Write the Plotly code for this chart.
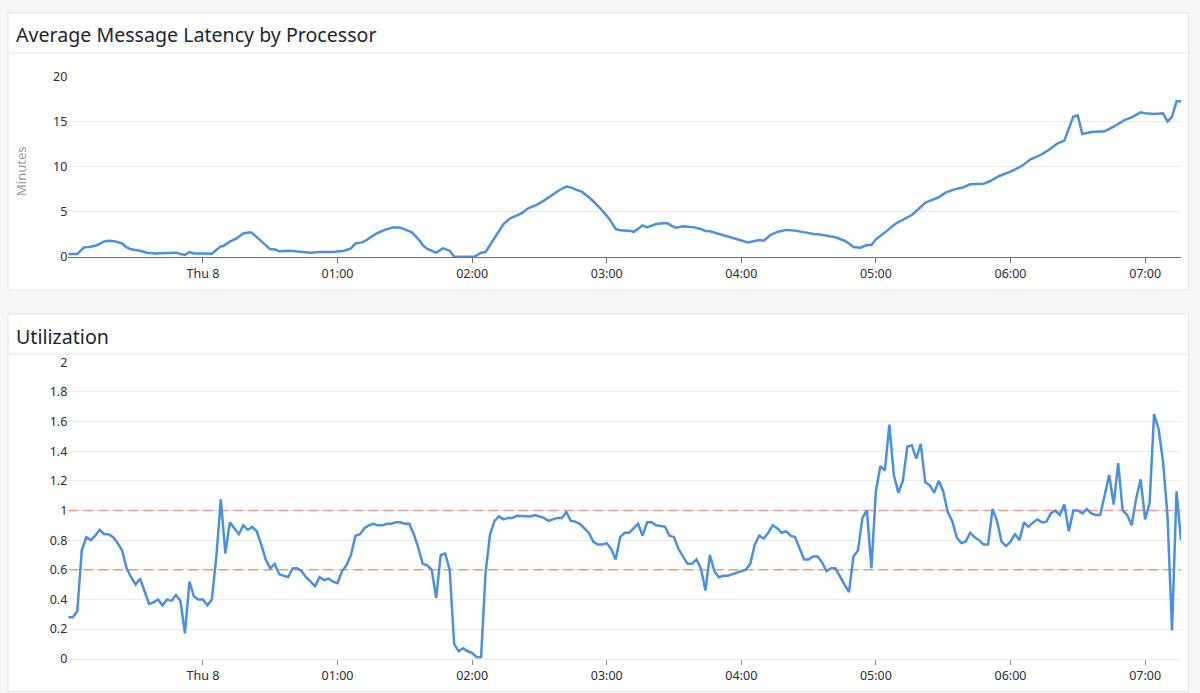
import pandas as pd
import plotly.graph_objects as go

# ---------------- data ----------------
# Average message latency (minutes), time = minutes from Thu 8 00:00
lat_minutes = [
    -60, -56, -53, -50, -47, -44, -42, -39, -36, -34,
    -32, -28, -25, -21, -16, -12, -10, -8, -6, -4,
    0, 4, 8, 9, 12, 15, 18, 21, 22, 25,
    30, 32, 34, 39, 43, 48, 52, 58, 63, 66,
    68, 71, 73, 77, 81, 85, 88, 91, 93, 95,
    97, 98, 100, 104, 107, 110, 112, 121, 124, 126,
    130, 134, 137, 142, 145, 149, 152, 156, 159, 162,
    164, 166, 169, 173, 177, 181, 184, 186, 191, 192,
    194, 196, 198, 202, 205, 207, 210, 211, 214, 219,
    222, 224, 226, 230, 233, 236, 240, 243, 248, 250,
    253, 256, 260, 264, 269, 272, 275, 280, 282, 286,
    288, 290, 293, 296, 298, 300, 303, 305, 309, 313,
    316, 319, 322, 328, 331, 335, 339, 342, 348, 351,
    355, 360, 365, 369, 374, 377, 381, 384, 388, 390,
    392, 396, 402, 406, 411, 414, 418, 420, 424, 428,
    430, 432, 434, 436,
]
lat_values = [
    0.33, 0.33, 1.07, 1.14, 1.33, 1.73, 1.80, 1.73, 1.50, 1.07,
    0.85, 0.70, 0.48, 0.40, 0.44, 0.48, 0.33, 0.22, 0.55, 0.40,
    0.40, 0.37, 1.20, 1.20, 1.70, 2.07, 2.60, 2.73, 2.65, 1.96,
    0.85, 0.85, 0.63, 0.70, 0.59, 0.48, 0.55, 0.55, 0.70, 0.96,
    1.50, 1.62, 1.88, 2.55, 3.00, 3.28, 3.25, 3.00, 2.75, 2.25,
    1.70, 1.30, 0.89, 0.48, 0.96, 0.70, 0.03, 0.03, 0.48, 0.55,
    2.07, 3.65, 4.28, 4.83, 5.39, 5.79, 6.24, 6.97, 7.42, 7.79,
    7.71, 7.49, 7.20, 6.42, 5.42, 4.28, 3.10, 2.95, 2.88, 2.77,
    3.14, 3.50, 3.28, 3.65, 3.73, 3.73, 3.32, 3.25, 3.39, 3.28,
    3.10, 2.88, 2.84, 2.55, 2.32, 2.10, 1.88, 1.62, 1.88, 1.80,
    2.44, 2.77, 3.00, 2.92, 2.70, 2.55, 2.50, 2.25, 2.18, 1.80,
    1.50, 1.10, 1.03, 1.33, 1.33, 1.96, 2.50, 2.92, 3.73, 4.28,
    4.65, 5.31, 6.01, 6.61, 7.12, 7.49, 7.71, 8.04, 8.12, 8.41,
    8.97, 9.45, 10.07, 10.81, 11.37, 11.85, 12.58, 12.88, 15.54, 15.65,
    13.62, 13.84, 13.91, 14.43, 15.17, 15.46, 16.01, 15.90, 15.83, 15.90,
    14.98, 15.54, 17.23, 17.23,
]

# Utilization, one sample every 2 minutes starting Wed 23:00
util_start = "2024-02-07 23:00"
util_step = "2min"
util_values = [
    0.28, 0.28, 0.32, 0.73, 0.82, 0.80, 0.83, 0.87, 0.84, 0.84,
    0.82, 0.78, 0.73, 0.61, 0.55, 0.50, 0.54, 0.45, 0.37, 0.38,
    0.40, 0.36, 0.40, 0.39, 0.43, 0.39, 0.17, 0.52, 0.42, 0.40,
    0.40, 0.36, 0.40, 0.69, 1.075, 0.71, 0.92, 0.88, 0.84, 0.90,
    0.87, 0.89, 0.86, 0.77, 0.67, 0.61, 0.64, 0.57, 0.56, 0.55,
    0.61, 0.61, 0.59, 0.55, 0.52, 0.49, 0.55, 0.53, 0.54, 0.52,
    0.51, 0.59, 0.63, 0.70, 0.83, 0.84, 0.88, 0.90, 0.91, 0.90,
    0.90, 0.91, 0.91, 0.92, 0.92, 0.91, 0.91, 0.84, 0.75, 0.64,
    0.63, 0.60, 0.41, 0.70, 0.71, 0.60, 0.10, 0.05, 0.07, 0.05,
    0.04, 0.01, 0.01, 0.58, 0.84, 0.93, 0.96, 0.94, 0.95, 0.95,
    0.965, 0.965, 0.96, 0.96, 0.97, 0.96, 0.95, 0.93, 0.94, 0.95,
    0.95, 0.99, 0.93, 0.925, 0.91, 0.88, 0.85, 0.79, 0.77, 0.77,
    0.78, 0.74, 0.67, 0.82, 0.85, 0.85, 0.88, 0.91, 0.83, 0.92,
    0.92, 0.90, 0.895, 0.89, 0.83, 0.82, 0.74, 0.69, 0.64, 0.64,
    0.67, 0.61, 0.46, 0.70, 0.59, 0.55, 0.56, 0.56, 0.57, 0.58,
    0.59, 0.60, 0.64, 0.77, 0.83, 0.81, 0.85, 0.90, 0.88, 0.85,
    0.86, 0.83, 0.82, 0.74, 0.67, 0.67, 0.69, 0.69, 0.65, 0.59,
    0.61, 0.61, 0.55, 0.50, 0.45, 0.69, 0.73, 0.95, 1.00, 0.61,
    1.13, 1.30, 1.27, 1.58, 1.24, 1.12, 1.20, 1.43, 1.44, 1.35,
    1.45, 1.19, 1.17, 1.12, 1.20, 1.13, 0.99, 0.93, 0.82, 0.78,
    0.79, 0.85, 0.82, 0.80, 0.77, 0.77, 1.01, 0.93, 0.79, 0.76,
    0.79, 0.84, 0.80, 0.92, 0.89, 0.92, 0.94, 0.92, 0.925, 0.98,
    1.00, 0.97, 1.04, 0.86, 1.00, 1.00, 0.98, 1.01, 0.98, 0.97,
    0.97, 1.11, 1.24, 1.04, 1.32, 1.00, 0.97, 0.90, 1.08, 1.21,
    0.94, 1.05, 1.65, 1.55, 1.33, 0.96, 0.19, 1.13, 0.80,
]

thresholds = [1.0, 0.6]
threshold_colors = ["#ec9a94", "#f29c5e"]

x_tick_vals = ["2024-02-08 00:00", "2024-02-08 01:00", "2024-02-08 02:00",
               "2024-02-08 03:00", "2024-02-08 04:00", "2024-02-08 05:00",
               "2024-02-08 06:00", "2024-02-08 07:00"]
x_tick_text = ["Thu 8", "01:00", "02:00", "03:00", "04:00", "05:00", "06:00", "07:00"]
x_range = ["2024-02-07 23:00", "2024-02-08 07:16"]

lat_ticks = [0, 5, 10, 15, 20]
util_ticks = [0, 0.2, 0.4, 0.6, 0.8, 1, 1.2, 1.4, 1.6, 1.8, 2]

# ---------------- figure ----------------
W, H = 1200, 693
def px(x):
    return x / W
def py(y):
    return 1 - y / H

lat_times = pd.Timestamp("2024-02-08 00:00") + pd.to_timedelta(lat_minutes, unit="min")
util_times = pd.date_range(util_start, periods=len(util_values), freq=util_step)

LINE = "#4a90e2"
GRID = "#ebebeb"
BORDER = "#e1e4e8"
FONT = "Noto Sans"
TXT = "#2e2e2e"
TICKSIZE = 12.5

fig = go.Figure()
# threshold markers drawn first so the data line sits on top
for val, col in zip(thresholds, threshold_colors):
    fig.add_trace(go.Scatter(x=x_range, y=[val, val], mode="lines",
                             line=dict(color=col, width=1.5, dash="10px,5px"),
                             xaxis="x2", yaxis="y2", showlegend=False, hoverinfo="skip"))
fig.add_trace(go.Scatter(x=lat_times, y=lat_values, mode="lines",
                         line=dict(color=LINE, width=2.5), xaxis="x", yaxis="y",
                         showlegend=False))
fig.add_trace(go.Scatter(x=util_times, y=util_values, mode="lines",
                         line=dict(color=LINE, width=2.5), xaxis="x2", yaxis="y2",
                         showlegend=False))

shapes = [
    dict(type="rect", xref="paper", yref="paper", x0=px(8), x1=px(1188.5),
         y0=py(290), y1=py(13), fillcolor="white", line=dict(color=BORDER, width=1), layer="below"),
    dict(type="line", xref="paper", yref="paper", x0=px(8), x1=px(1188.5),
         y0=py(53), y1=py(53), line=dict(color=BORDER, width=1), layer="below"),
    dict(type="rect", xref="paper", yref="paper", x0=px(8), x1=px(1188.5),
         y0=py(691.5), y1=py(314), fillcolor="white", line=dict(color=BORDER, width=1), layer="below"),
    dict(type="line", xref="paper", yref="paper", x0=px(8), x1=px(1188.5),
         y0=py(354), y1=py(354), line=dict(color=BORDER, width=1), layer="below"),
]

annotations = [
    dict(text="Average Message Latency by Processor", xref="paper", yref="paper",
         x=px(14), y=py(35), xanchor="left", yanchor="middle", showarrow=False,
         font=dict(family=FONT, size=19.6, color="#1c2630")),
    dict(text="Utilization", xref="paper", yref="paper",
         x=px(14), y=py(336), xanchor="left", yanchor="middle", showarrow=False,
         font=dict(family=FONT, size=19.6, color="#1c2630")),
    dict(text="Minutes", xref="paper", yref="paper", x=px(21), y=py(172),
         xanchor="center", yanchor="middle", textangle=-90, showarrow=False,
         font=dict(family=FONT, size=13, color="#9b9b9b")),
]

xcommon = dict(type="date", range=x_range, tickmode="array", tickvals=x_tick_vals,
               ticktext=x_tick_text, showgrid=False, zeroline=False, ticks="outside",
               ticklen=5, tickwidth=1, tickfont=dict(family=FONT, size=TICKSIZE, color=TXT),
               fixedrange=True, automargin=False)

fig.update_layout(
    width=W, height=H,
    autosize=False,
    margin=dict(l=0, r=0, t=0, b=0, pad=0, autoexpand=False),
    paper_bgcolor="#f5f6f8",
    plot_bgcolor="rgba(0,0,0,0)",
    shapes=shapes,
    annotations=annotations,
    showlegend=False,
    xaxis=dict(domain=[px(68.3), px(1181)], anchor="y", showline=True,
               linecolor="#6e6e6e", linewidth=1, tickcolor="#6e6e6e", **xcommon),
    yaxis=dict(domain=[py(257), py(76.3)], anchor="x", range=[0, 20], tickmode="array",
               tickvals=lat_ticks, showgrid=True, gridcolor=GRID, gridwidth=1,
               zeroline=False, showline=False, ticks="", automargin=False,
               tickfont=dict(family=FONT, size=TICKSIZE, color=TXT)),
    xaxis2=dict(domain=[px(68.3), px(1181)], anchor="y2", showline=True,
                linecolor=GRID, linewidth=1, tickcolor="#8a8a8a", **xcommon),
    yaxis2=dict(domain=[py(658.7), py(362.3)], anchor="x2", range=[0, 2], tickmode="array",
                tickvals=util_ticks, showgrid=True, gridcolor=GRID, gridwidth=1,
                zeroline=False, showline=False, ticks="", automargin=False,
                tickfont=dict(family=FONT, size=TICKSIZE, color=TXT)),
)

fig.write_html("out.html")
